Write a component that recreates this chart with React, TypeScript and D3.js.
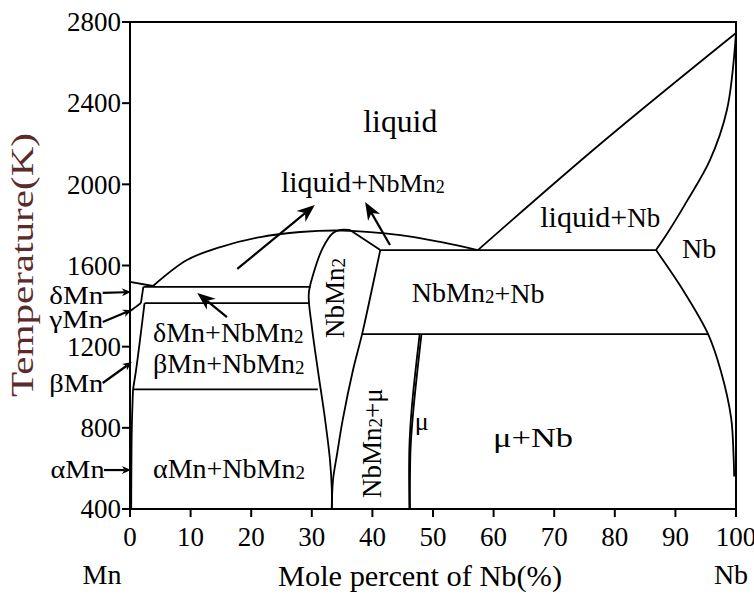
import React from "react";
import * as d3 from "d3";

const W = 754;
const H = 596;

const xTicks = [0, 10, 20, 30, 40, 50, 60, 70, 80, 90, 100];
const yTicks = [400, 800, 1200, 1600, 2000, 2400, 2800];

type Pt = [number, number];

// Phase boundaries, [mole % Nb, temperature K]
const liquidusDome: Pt[] = [[3.8, 1499], [9.4, 1627], [14.9, 1691], [21.5, 1740], [28.1, 1765], [35.0, 1772], [44.6, 1750], [51.2, 1716], [57.4, 1676]];
const nbLiquidus: Pt[] = [[57.4, 1676], [77.6, 2199], [100, 2746]];
const nbSolidus: Pt[] = [[100, 2746], [98.5, 2366], [95.7, 2119], [92.0, 1922], [88.7, 1760], [86.8, 1676]];
const nbSolvus: Pt[] = [[86.8, 1676], [91.4, 1472], [95.4, 1262], [97.5, 1080], [99.2, 848], [99.6, 660], [99.7, 560]];
const nbmn2Left: Pt[] = [[33.3, 400], [33.3, 500], [33.0, 641], [32.2, 839], [31.0, 1085], [30.0, 1300], [29.5, 1460], [30.2, 1553], [31.8, 1686], [33.5, 1760], [34.7, 1775], [36.3, 1775]];
const nbmn2Cap: Pt[] = [[36.3, 1775], [41.3, 1676]];
const nbmn2Right: Pt[] = [[41.3, 1676], [39.8, 1466], [38.3, 1262], [36.8, 1085], [35.1, 839], [34.2, 676], [33.5, 543], [33.3, 400]];
const muLeft: Pt[] = [[47.8, 1262], [46.5, 900], [46.1, 700], [46.1, 400]];
const muRight: Pt[] = [[48.1, 1262], [46.8, 900], [46.3, 700], [46.2, 400]];
const eutectic: Pt[] = [[41.3, 1676], [86.8, 1676]];
const iso1262: Pt[] = [[38.3, 1262], [95.4, 1262]];
const band1495: Pt[] = [[2.2, 1495], [29.8, 1495]];
const band1415: Pt[] = [[2.4, 1415], [29.5, 1415]];
const iso990: Pt[] = [[0.5, 990], [31.0, 990]];
const deltaLiq: Pt[] = [[0, 1519], [3.8, 1499]];
const deltaSol: Pt[] = [[2.2, 1495], [1.8, 1415]];
const gammaLine: Pt[] = [[1.8, 1415], [0.9, 1395], [0, 1375]];
const betaSolvus: Pt[] = [[2.4, 1415], [1.65, 1233], [1.0, 1085], [0.5, 990]];
const alphaLine: Pt[] = [[0.5, 990], [0.3, 800], [0.2, 400]];

const smoothCurves = [liquidusDome, nbLiquidus, nbSolidus, nbSolvus, nbmn2Left, nbmn2Right, muLeft, muRight, betaSolvus, alphaLine, gammaLine];
const straightLines = [nbmn2Cap, eutectic, iso1262, band1495, band1415, iso990, deltaLiq, deltaSol];

// Annotation arrows, [from, to] in data units
const bigArrows: [Pt, Pt][] = [
  [[17.7, 1583], [30.5, 1898]],
  [[42.9, 1701], [38.8, 1913]],
  [[16.0, 1346], [11.1, 1465]],
];
const sideArrows: [Pt, Pt][] = [
  [[-4.5, 1465], [0.15, 1469]],
  [[-4.5, 1322], [0.3, 1381]],
  [[-4.5, 1021], [0.3, 1124]],
  [[-4.3, 592], [0.15, 592]],
];
const sideLabels: { text: string; at: Pt }[] = [
  { text: "δMn", at: [-4.4, 1412] },
  { text: "γMn", at: [-4.4, 1290] },
  { text: "βMn", at: [-4.4, 975] },
  { text: "αMn", at: [-4.2, 555] },
];

const FONT = "'Liberation Serif', 'Times New Roman', serif";

function Arrow({ from, to, head, width }: { from: [number, number]; to: [number, number]; head: number; width: number }) {
  const dx = to[0] - from[0];
  const dy = to[1] - from[1];
  const len = Math.hypot(dx, dy);
  const ux = dx / len;
  const uy = dy / len;
  const bx = to[0] - ux * head;
  const by = to[1] - uy * head;
  const px = -uy * width / 2;
  const py = ux * width / 2;
  const nx = to[0] - ux * head * 0.7;
  const ny = to[1] - uy * head * 0.7;
  return (
    <g>
      <line x1={from[0]} y1={from[1]} x2={nx} y2={ny} stroke="#000" strokeWidth={2.2} />
      <path d={`M${to[0]},${to[1]} L${bx + px},${by + py} L${nx},${ny} L${bx - px},${by - py} Z`} fill="#000" />
    </g>
  );
}

function Sub2({ size }: { size: number }) {
  return <tspan fontSize={size} dy={1}>2</tspan>;
}

export default function App() {
  const x = d3.scaleLinear().domain([0, 100]).range([130, 736]);
  const y = d3.scaleLinear().domain([400, 2800]).range([509, 22]);
  const smooth = d3.line<Pt>().x((d) => x(d[0])).y((d) => y(d[1])).curve(d3.curveCatmullRom.alpha(0.5));
  const straight = d3.line<Pt>().x((d) => x(d[0])).y((d) => y(d[1]));
  const P = (p: Pt): [number, number] => [x(p[0]), y(p[1])];

  const x0 = x(0), x1 = x(100), y0 = y(400), y1 = y(2800);
  const fit = { lengthAdjust: "spacingAndGlyphs" as const };

  return (
    <svg width={W} height={H} style={{ position: "absolute", left: 0, top: 0, background: "#fff" }} fontFamily={FONT}>
      <rect width={W} height={H} fill="#fff" />
      {/* frame */}
      <rect x={x0} y={y1} width={x1 - x0} height={y0 - y1} fill="none" stroke="#000" strokeWidth={2} />
      {/* y ticks */}
      {yTicks.map((t) => (
        <g key={t}>
          <line x1={x0 - 8} x2={x0} y1={y(t)} y2={y(t)} stroke="#000" strokeWidth={2} />
          <text x={x0 - 9} y={y(t)} dy="0.34em" textAnchor="end" fontSize={27}>{t}</text>
        </g>
      ))}
      {/* x ticks */}
      {xTicks.map((t) => (
        <g key={t}>
          <line x1={x(t)} x2={x(t)} y1={y0} y2={y0 + 8} stroke="#000" strokeWidth={2} />
          <text x={x(t)} y={y0 + 37} textAnchor="middle" fontSize={27}>{t}</text>
        </g>
      ))}
      <text x={102} y={584} textAnchor="middle" fontSize={28}>Mn</text>
      <text x={731} y={584} textAnchor="middle" fontSize={28}>Nb</text>
      <text x={420} y={586} textAnchor="middle" fontSize={29} textLength={284} {...fit}>Mole percent of Nb(%)</text>
      <text transform={`translate(33,265) rotate(-90)`} textAnchor="middle" fontSize={31} fill="#5b2a2a" textLength={264} {...fit}>Temperature(K)</text>

      {/* phase boundaries */}
      {smoothCurves.map((c, i) => (
        <path key={`s${i}`} d={smooth(c) || ""} fill="none" stroke="#000" strokeWidth={1.8} />
      ))}
      {straightLines.map((c, i) => (
        <path key={`l${i}`} d={straight(c) || ""} fill="none" stroke="#000" strokeWidth={1.8} />
      ))}

      {/* arrows */}
      {bigArrows.map(([a, b], i) => (
        <Arrow key={`b${i}`} from={P(a)} to={P(b)} head={18} width={14} />
      ))}
      {sideArrows.map(([a, b], i) => (
        <Arrow key={`a${i}`} from={P(a)} to={P(b)} head={9} width={8} />
      ))}
      {sideLabels.map((l) => (
        <text key={l.text} x={x(l.at[0])} y={y(l.at[1])} textAnchor="end" fontSize={26} textLength={54} {...fit}>{l.text}</text>
      ))}

      {/* region labels */}
      <text x={x(44.6)} y={y(2258)} textAnchor="middle" fontSize={31} textLength={74} {...fit}>liquid</text>
      <text x={x(24.9)} y={y(1962)} fontSize={30}>liquid+<tspan fontSize={26}>NbMn</tspan><Sub2 size={18} /></text>
      <text x={x(67.7)} y={y(1790)} fontSize={30}>liquid+<tspan fontSize={27}>Nb</tspan></text>
      <text x={x(91.1)} y={y(1637)} fontSize={28}>Nb</text>
      <text x={x(46.5)} y={y(1420)} fontSize={28}>NbMn<Sub2 size={19} />+Nb</text>
      <text x={x(3.8)} y={y(1223)} fontSize={28}>δMn+NbMn<Sub2 size={19} /></text>
      <text x={x(3.8)} y={y(1070)} fontSize={28}>βMn+NbMn<Sub2 size={19} /></text>
      <text x={x(3.8)} y={y(553)} fontSize={28}>αMn+NbMn<Sub2 size={19} /></text>
      <text transform={`translate(${x(35.3)},${y(1440)}) rotate(-90)`} textAnchor="middle" fontSize={27}>NbMn<Sub2 size={19} /></text>
      <text transform={`translate(${x(41.4)},${y(725)}) rotate(-90)`} textAnchor="middle" fontSize={27}>NbMn<Sub2 size={19} />+μ</text>
      <text x={x(47.0)} y={y(789)} fontSize={26}>μ</text>
      <text x={x(59.9)} y={y(706)} fontSize={28} textLength={80} {...fit}>μ+Nb</text>
    </svg>
  );
}
